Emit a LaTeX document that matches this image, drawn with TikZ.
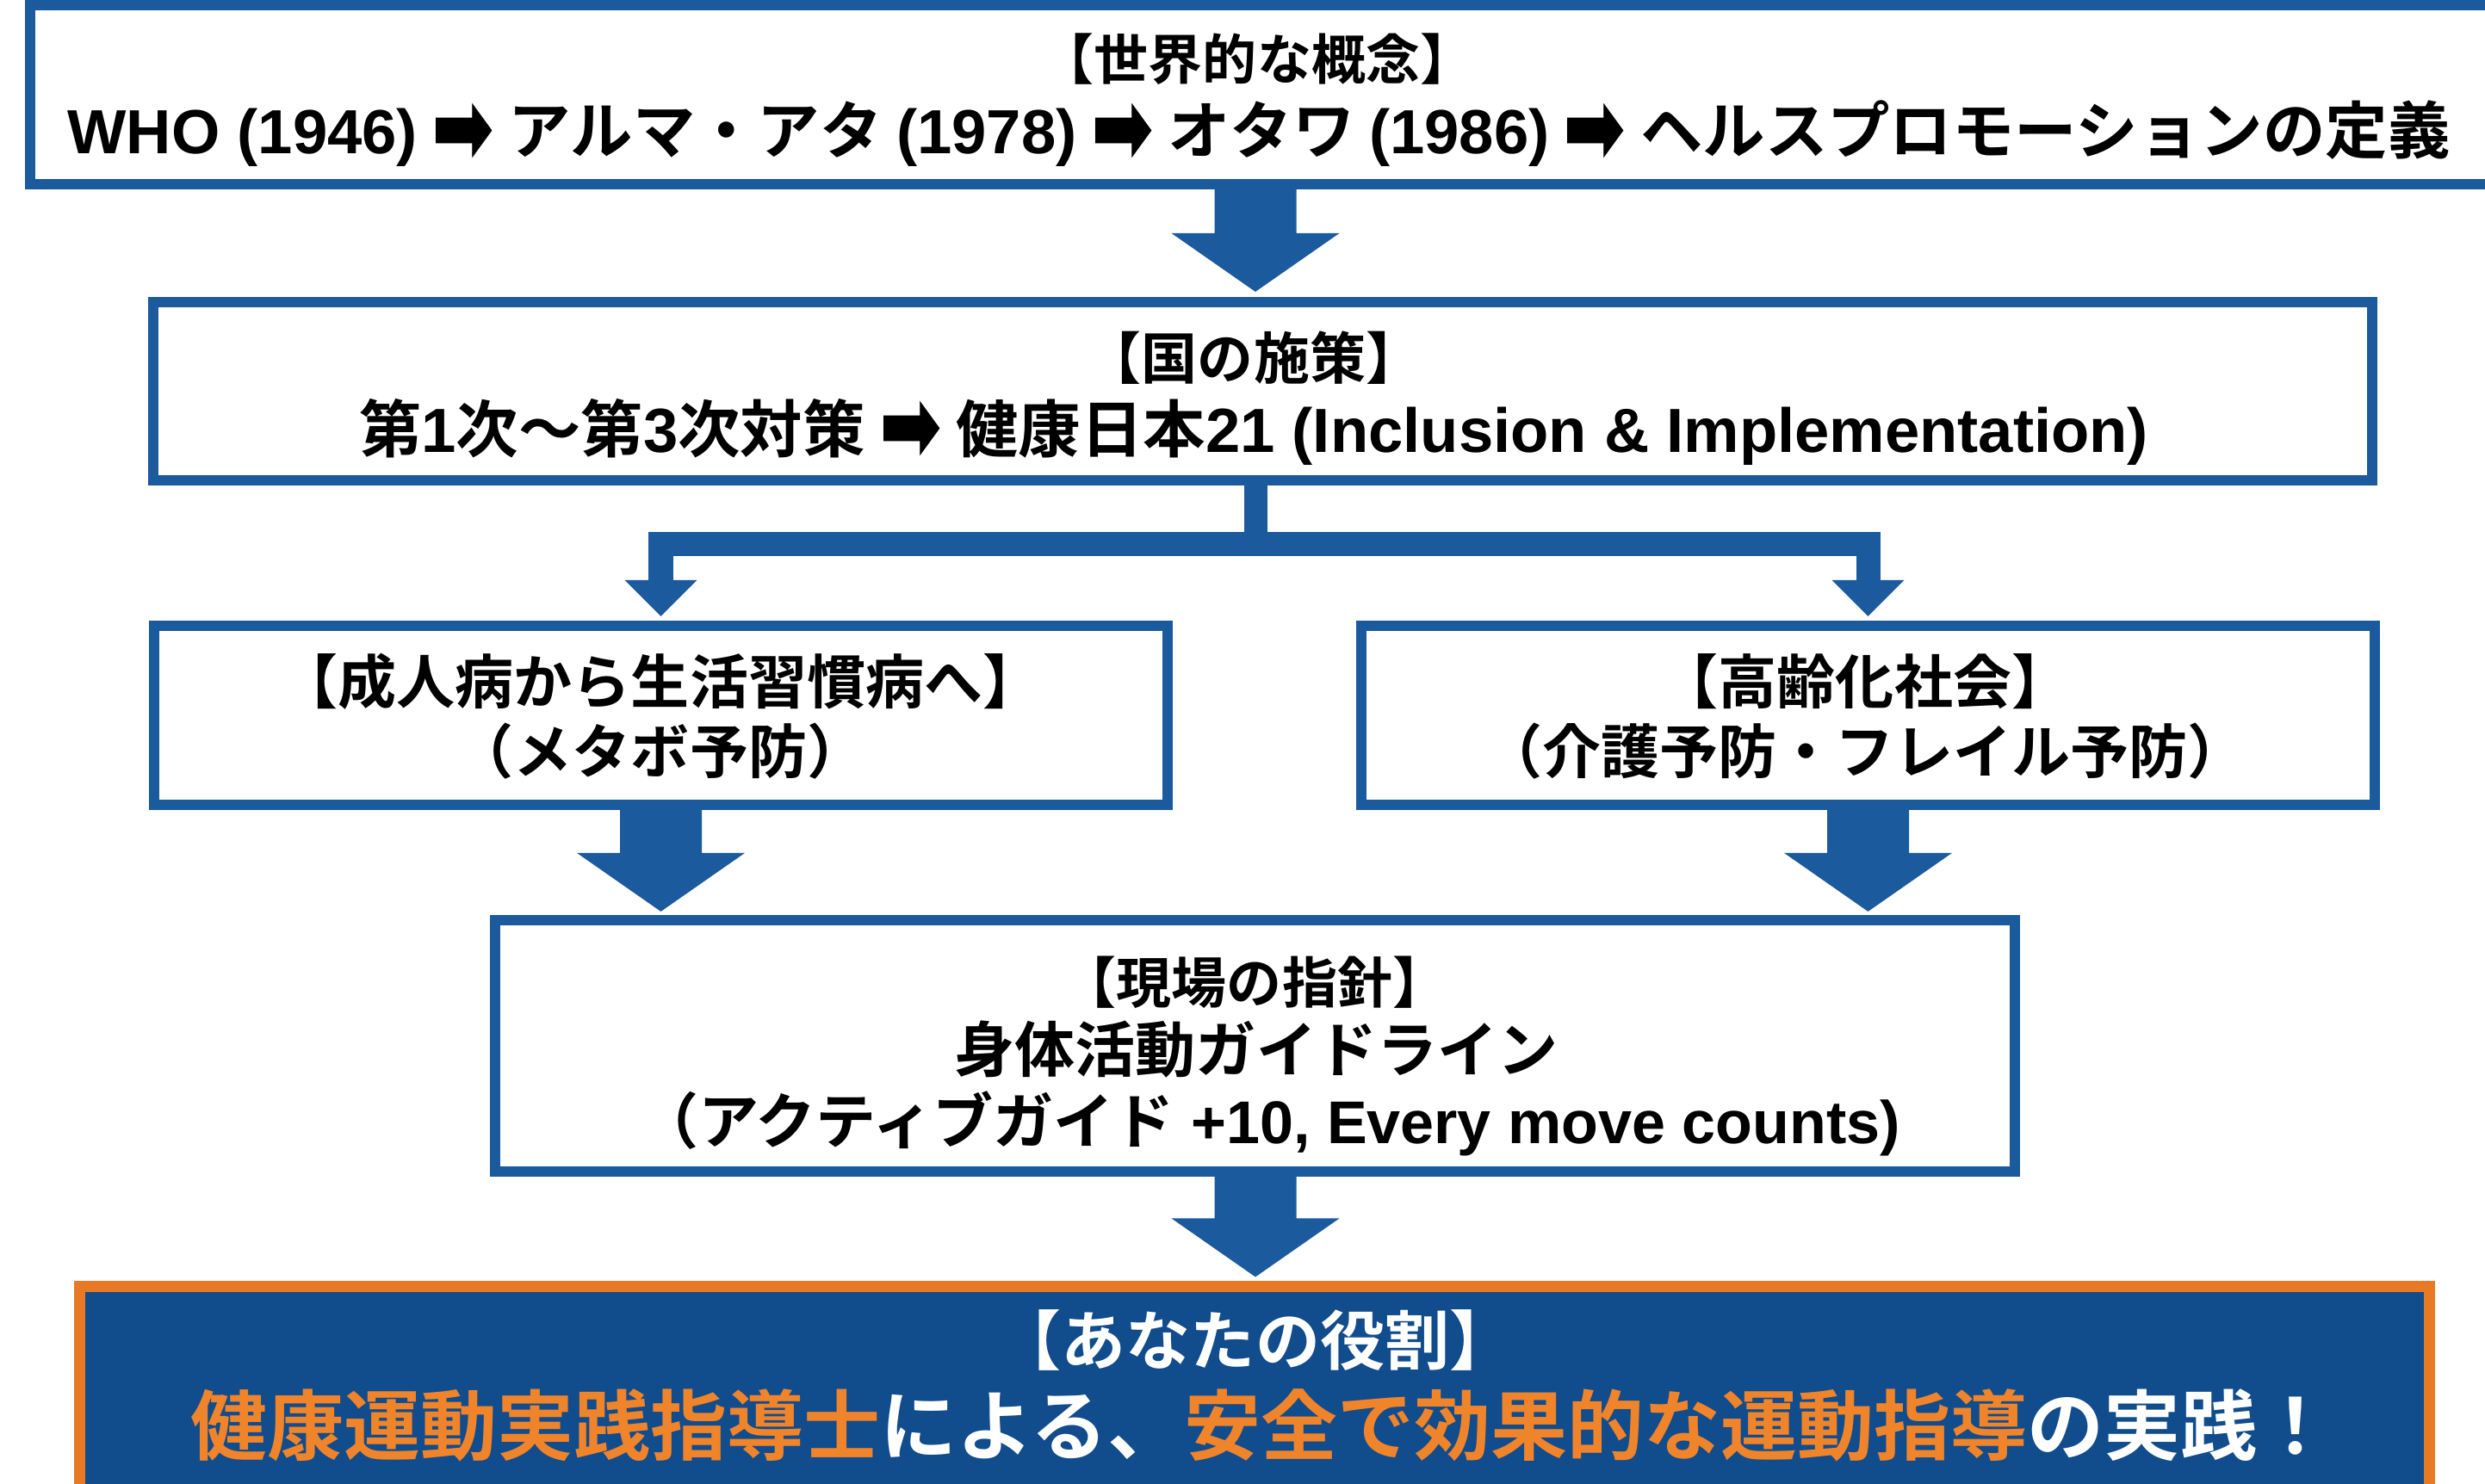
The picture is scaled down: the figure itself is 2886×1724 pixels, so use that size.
\documentclass[tikz,border=0pt]{standalone}
\usepackage{fontspec}
\setmainfont{Noto Sans CJK JP Bold}
\newfontfamily\latf{Liberation Sans Bold}
\newfontfamily\arrf{DejaVu Sans Bold}
\usetikzlibrary{calc}
\definecolor{bblue}{HTML}{1B5A9C}
\definecolor{fblue}{HTML}{114C8D}
\definecolor{borng}{HTML}{E97A25}
\definecolor{torng}{HTML}{F0842A}
\newcommand\LA[1]{{\latf #1}}
\newcommand\RA{\raisebox{-0.14em}{\scalebox{1.2}[1.65]{\arrf ➡}}}
\newcommand\fsz[1]{\fontsize{#1}{#1}\selectfont}
% fat downward arrow: #1 start, #2 tip
\newcommand\fatdown[2]{%
  \fill[bblue] ($(#1)+(-47.5,0)$) -- ($(#2)+(-47.5,-68)$) -- ($(#2)+(-97.5,-68)$)
    -- (#2) -- ($(#2)+(97.5,-68)$) -- ($(#2)+(47.5,-68)$) -- ($(#1)+(47.5,0)$) -- cycle;}
\begin{document}
\begin{tikzpicture}[x=0.01cm,y=-0.01cm,
  box/.style={draw=bblue, line width=0.12cm, fill=white, rectangle, inner sep=0pt},
  rolebox/.style={draw=borng, line width=0.13cm, fill=fblue, rectangle, inner sep=0pt},
  txt/.style={inner sep=0pt, anchor=base, text=black}]
\clip (0,0) rectangle (2886,1724);
\fill[white] (0,0) rectangle (2886,1724);

% boxes
\node[box, minimum width=28.64cm, minimum height=2.08cm] (b1) at (1468,110) {};
\node[box, minimum width=25.75cm, minimum height=2.07cm] (b2) at (1466.5,454.5) {};
\node[box, minimum width=11.77cm, minimum height=2.08cm] (b3) at (767.5,831) {};
\node[box, minimum width=11.77cm, minimum height=2.08cm] (b4) at (2169.5,831) {};
\node[box, minimum width=17.63cm, minimum height=2.92cm] (b5) at (1457.5,1215) {};
\node[rolebox, minimum width=27.28cm, minimum height=2.45cm] (b6) at (1457,1617.5) {};

% connectors
\coordinate (ax) at (1458,0);
\coordinate (bar) at (0,632);
\coordinate (a1s) at (ax |- b1.south);
\coordinate (a1t) at ($(ax |- b2.north)+(0,-6)$);
\fatdown{a1s}{a1t}

\draw[bblue, line width=0.27cm] (ax |- b2.south) -- (ax |- bar);
\draw[bblue, line width=0.28cm, line join=miter]
  ($(b3.north)+(0,-45)$) -- (b3.north |- bar) -- (b4.north |- bar) -- ($(b4.north)+(0,-45)$);
\coordinate (l3t) at ($(b3.north)+(0,-5)$);
\coordinate (l4t) at ($(b4.north)+(0,-5)$);
\fill[bblue] ($(l3t)+(-42,-42)$) -- ($(l3t)+(42,-42)$) -- (l3t) -- cycle;
\fill[bblue] ($(l4t)+(-42,-42)$) -- ($(l4t)+(42,-42)$) -- (l4t) -- cycle;

\coordinate (a2t) at ($(b3.south |- b5.north)+(0,-4)$);
\fatdown{b3.south}{a2t}
\coordinate (a3t) at ($(b4.south |- b5.north)+(0,-4)$);
\fatdown{b4.south}{a3t}
\coordinate (a4s) at (ax |- b5.south);
\coordinate (a4t) at ($(ax |- b6.north)+(0,-5)$);
\fatdown{a4s}{a4t}

% texts
\node[txt, font=\fsz{17.93pt}] (t1a) at (1460,93) {【世界的な概念】};
\node[txt, font=\fsz{20.6pt}] (t1b) at (1462,179) {\LA{WHO (1946)} \RA\ アルマ・アタ \LA{(1978)} \RA\ オタワ \LA{(1986)} \RA\ ヘルスプロモーションの定義};

\node[txt, font=\fsz{18.49pt}] (t2a) at (1456,440) {【国の施策】};
\node[txt, font=\fsz{20.6pt}] (t2b) at (1456,525) {第\LA{1}次〜第\LA{3}次対策 \RA\ 健康日本\LA{21 (Inclusion \& Implementation)}};

\node[txt, font=\fsz{19.35pt}] (t3a) at (767,817) {【成人病から生活習慣病へ】};
\node[txt, font=\fsz{19.35pt}] (t3b) at (767,898) {（メタボ予防）};
\node[txt, font=\fsz{19.35pt}] (t4a) at (2166,817) {【高齢化社会】};
\node[txt, font=\fsz{19.35pt}] (t4b) at (2166,898) {（介護予防・フレイル予防）};

\node[txt, font=\fsz{18.21pt}] (t5a) at (1457,1165) {【現場の指針】};
\node[txt, font=\fsz{19.92pt}] (t5b) at (1459,1245) {身体活動ガイドライン};
\node[txt, font=\fsz{19.92pt}] (t5c) at (1474,1328) {（アクティブガイド\LA{ +10, Every move counts)}};

\node[txt, text=white, font=\fsz{21.34pt}] (t6a) at (1458,1585) {【あなたの役割】};
\node[txt, text=white, font=\fsz{25.3pt}] (t6b) at (1466,1689) {{\color{torng}健康運動実践指導士}による、{\color{torng}安全で効果的な運動指導}の実践！};
\end{tikzpicture}
\end{document}
